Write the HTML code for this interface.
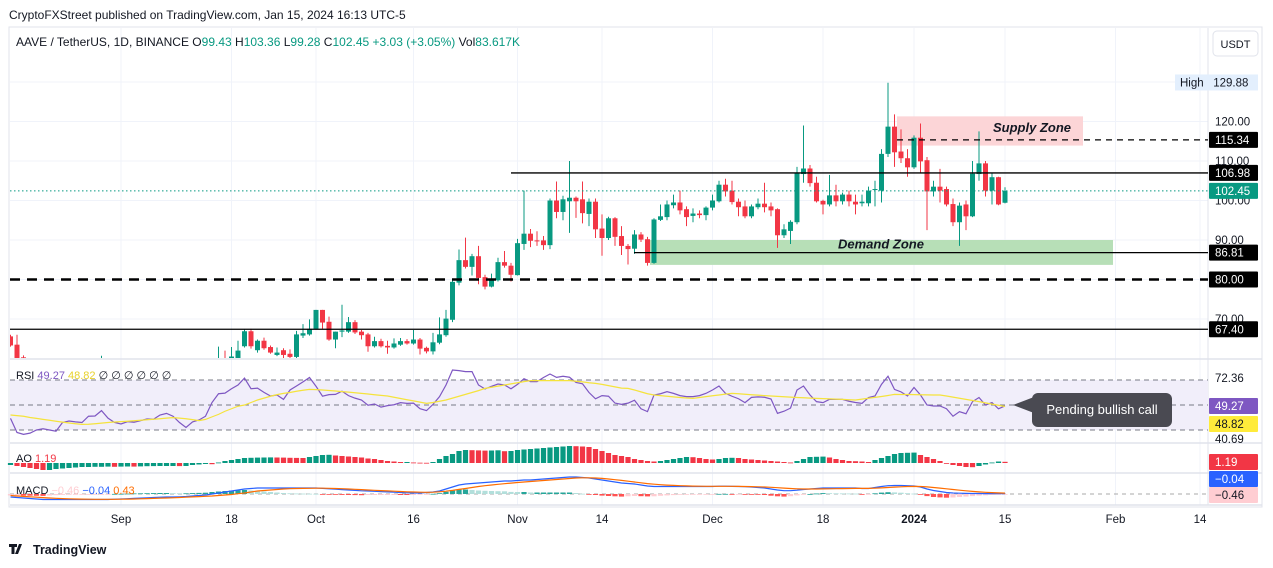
<!DOCTYPE html>
<html><head><meta charset="utf-8"><style>
html,body{margin:0;padding:0;background:#fff;width:1273px;height:568px;overflow:hidden}
svg{display:block;font-family:"Liberation Sans",sans-serif}
</style></head><body>
<svg id="chart" width="1273" height="568" viewBox="0 0 1273 568" xmlns="http://www.w3.org/2000/svg">
<rect x="0" y="0" width="1273" height="568" fill="#fff"/>
<text x="9" y="19" font-size="12" fill="#131722">CryptoFXStreet published on TradingView.com, Jan 15, 2024 16:13 UTC-5</text>
<rect x="9" y="27" width="1253" height="480" fill="none" stroke="#e0e3eb"/>
<g id="grid"></g>
<g id="zones"></g>
<g id="candles"></g>
<g id="drawings"></g>
<g id="rsi"></g>
<g id="ao"></g>
<g id="macd"></g>
<g id="axis"></g>
<text x="16" y="46" font-size="12" fill="#131722">AAVE / TetherUS, 1D, BINANCE <tspan>O</tspan><tspan fill="#089981">99.43</tspan> <tspan>H</tspan><tspan fill="#089981">103.36</tspan> <tspan>L</tspan><tspan fill="#089981">99.28</tspan> <tspan>C</tspan><tspan fill="#089981">102.45 +3.03 (+3.05%)</tspan> <tspan>Vol</tspan><tspan fill="#089981">83.617K</tspan></text>
<rect x="1213" y="31" width="45" height="25" rx="4" fill="#fff" stroke="#e0e3eb"/>
<text x="1235.5" y="48" font-size="11" fill="#131722" text-anchor="middle">USDT</text>
<text x="16" y="379" font-size="11" fill="#131722">RSI <tspan fill="#7e57c2">49.27</tspan> <tspan fill="#e8d22a">48.82</tspan> ∅ ∅ ∅ ∅ ∅ ∅</text>
<text x="16" y="462" font-size="11" fill="#131722">AO <tspan fill="#f23645">1.19</tspan></text>
<text x="16" y="494" font-size="11" fill="#131722">MACD <tspan fill="#ffcdd2">−0.46</tspan> <tspan fill="#2962ff">−0.04</tspan> <tspan fill="#ff6d00">0.43</tspan></text>
<g>
<path d="M1013,405 L1034,397 L1034,413 Z" fill="#4a4a52"/>
<rect x="1032" y="393" width="140" height="34" rx="6" fill="#4a4a52"/>
<text x="1102" y="414" font-size="13" fill="#fff" text-anchor="middle">Pending bullish call</text>
</g>
<g>
<path d="M9,544 h8 v3 h-2.5 v7 h-3 v-7 h-2.5z M19,544 h3 l-4,10 h-3z" fill="#131722"/>
<text x="33" y="554" font-size="12.5" font-weight="bold" fill="#131722">TradingView</text>
</g>
</svg>
<script>
const O=[65.6,63.5,60.3,58,57,56,55.5,56,57,56.5,
56,55,55.5,56,57,58,57,56.5,56,55.5,
55,55.5,56,56.5,57,57.5,58,58,58.5,59,
59.5,59,59.5,60,59.5,60,63.1,66.9,62.1,64.5,
62.9,60.9,62.1,61.2,60.4,65.8,66.1,67.5,72.3,69.3,
64.8,66.8,66.8,69.2,66.8,66.1,63.1,64.4,63.2,62.8,
63.5,64.4,63.8,64.8,62.7,61.8,64,65.9,69.8,79.2,
84.9,83.2,85.9,80.6,78.2,79.8,84.4,83.5,81.1,89,
91.6,89.9,89.9,88.7,100,97.1,99.8,100.7,100.3,96.6,
99.7,92.9,90.5,95.5,91,88.5,87.8,91.4,90.2,84.2,
95.1,95.8,98.8,99.5,97.8,96.1,96.7,96.3,98.2,99.8,
104,102.5,99.7,98.5,96,98.3,99.2,98.5,97.8,91.2,
92.3,94.5,106.7,108.1,104.5,99.9,99,101.3,99.8,101.5,
99.7,99.3,99.3,102.7,102.5,111.8,118.7,112.4,110.7,108.4,
115.9,110.2,102.3,103.5,102.9,99.1,94.5,99,96,106.7,
109.4,102.5,105.9,99.43];
const H=[66,66,60.8,58.8,57.8,56.6,56.8,57.6,57.4,57,
56.4,56,56.6,57.5,60.7,58.4,57.3,57,56.5,55.8,
56,56.5,57,57.5,58,58.5,58.8,59.3,59.8,60,
59.8,60,63,62,62.9,64.5,67.3,67.5,64.8,65.3,
63.3,62.8,62.6,62.3,67,68.7,69.9,72.3,72.3,70.6,
66.8,73.6,70.5,69.7,67.2,66.5,65.5,65,64.5,65.1,
65.2,64.9,67.2,65.2,63,66.5,70.4,72.3,80,87.6,
90.6,86.5,88.5,81.2,81.5,85.5,87.2,84.2,90.3,102.5,
92.8,92.2,91,100.5,104.8,101.2,110,101,104.8,100.5,
100.5,96.5,95.9,95.8,93.5,89,92.5,92,90.8,95.5,
99,100,101.5,102.5,98.5,98,97.5,98.5,101.5,105,
105.5,105,100.5,100,99,100.5,104.5,99.5,98,94,
95,108.5,119,109,106,100.2,106.5,104,102,102.5,
101.5,101.5,103.5,105,113,129.8,121.8,118,113,116.5,
119.5,111,105,108,103.5,100.5,99.5,100,110,117.5,
110,107,106,103.36];
const L=[63,58,57,56.2,55.3,54.8,55,55.6,55.8,55.5,
54.5,54.6,55,55.6,56.5,56.5,56,55.5,55,54.5,
54.6,55,55.6,56,56.5,57,57,57.5,58,58.5,
58.2,58.5,59,59.5,59,59.6,62.8,62.5,61.5,62.2,
61.2,60.6,59.8,59,60,65.2,65.8,67.3,67.5,64.5,
62.6,65.4,66.5,66.2,64.8,61.7,62.8,62.8,61.2,62.5,
63.2,63.5,63.5,61,61.3,61,63.6,65.5,69.2,78.5,
82.8,81,78.8,77.5,78,79.5,83,79.5,81,87.5,
88.2,88.5,87.5,87.7,95.5,95,91.8,95.6,94.2,93.5,
90.5,86,90,88.5,86.2,83.8,86.5,89.5,83.5,84,
94.8,95,98,96.5,93.5,94.5,95.5,95,97.5,99.5,
101,99,96,95.5,95.5,97.8,97,96,88,90.5,
89,94,104.5,103.5,99.5,96.5,98.5,98.5,99,98.5,
96.5,98.5,98.5,98.5,99.5,111,108.5,109.5,106,108,
107,92.5,101,99.5,98.5,93.5,88.5,92.5,95.8,105,
101,99,98.8,99.28];
const C=[63.3,59,58,57,56,55.5,56,57,56.5,56,
55,55.5,56,57,58,57,56.5,56,55.5,55,
55.5,56,56.5,57,57.5,58,58,58.5,59,59.5,
59,59.5,60,59.6,60.5,62,66.9,63.1,64.5,62.6,
61.5,61.5,60.9,60.4,66.1,66.4,67.5,72.3,69.1,64.8,
66.8,67.1,69.2,66.6,65.9,63.1,64.4,63.1,62.8,63.8,
64.4,63.8,64.8,62.5,61.8,64.1,66.1,70.1,79.4,84.9,
83.2,85.9,80.4,78.2,80.2,84.4,83.5,81.2,89.2,91.6,
89.8,89.8,88.7,100,97.1,100.3,100.7,99.8,96.8,99.7,
92.7,90.5,95.5,90.8,88.5,87.7,91.4,90.1,84.2,95.2,
96,99,99.5,97.5,95.8,96.7,96.3,98.2,100,104,
102.3,99.6,98.3,96,98.5,99.2,98.3,97.5,91.2,92.7,
94.6,107,108.1,104.4,99.8,99,101.3,99.8,101.5,99.8,
99,99.7,102.5,102.9,111.8,118.7,112.2,110.7,108.4,115.9,
109.9,102.3,103.5,102.5,99,94.5,98.7,96,106.8,109.4,
102.5,105.9,99,102.45];
const rsiVals=[39.3,28,26.5,27.5,30,31,30,29,36,37.2,36.5,36,41,41.2,45.5,39.5,36,34.8,36.7,36.2,37.5,38.8,38.6,42,43.3,41,36,32,36.5,38,41,52,59,59.5,63,66,71.5,63,63.5,60.1,57.2,58,54.5,62,65.2,68.5,72,65,57,58.3,58.5,61,57.5,55.5,54,49.8,50.8,48.3,49.5,50.2,51.9,51.3,51.5,47,45.5,50.5,56.7,66,78,77.5,76.7,76.7,66,62.8,65,66.8,66,63,66.5,71,68.7,68.7,72,74.8,72.1,73,72.2,68,67,60,55,57.5,57,51.5,50.5,51.5,53.8,47,44.7,58,59,60.7,59.3,57.5,56.7,56.7,57.5,59.3,62,65.2,59.3,57,55,51.9,56.1,56.5,56.2,54.8,43.3,45,47.5,62,65.2,58,52.7,51.9,54.5,54.5,54.5,53,52,51.3,56,57.2,66.5,73,62.5,60.5,57.2,64,58,50,49.2,49.2,47,41,44.7,43,52.7,56,50,51.9,47,49.27];
const rsiMa=[42,41.5,41,40,39.3,38.5,37.8,37,36.3,35.6,35,34.5,34.6,35,35.5,36,36.4,36.7,37,37.4,37.8,38.2,38.6,39,39.5,39.9,39.5,39,38.3,37.5,38.5,40.5,42.5,45,47,49,50,52,54,55.5,57,58.3,59.3,60,61,61.8,62.5,62.3,62,61.6,61.2,60.7,60.3,59.8,59.3,58.8,58.2,57.7,57.2,56.2,55.2,54.2,53.3,52.3,51.3,52,53,54,55.5,57,58.5,60,61.5,63.3,64.2,65.1,66,66.9,67.8,68.7,69.5,69.5,69.5,69.5,69.5,69.5,69.5,69,68.5,67.8,67.3,66.5,65.5,64.5,63.5,63.3,62,60.5,59,58,57.5,57,56.5,56,55.6,55.3,56,56.7,57.4,58,58.7,59.3,59,58.6,58.2,57.9,57.5,57.2,56.9,56.6,56.3,56,55.8,55.5,55.3,55.1,54.9,54.7,54.5,54.2,54,54.7,55.4,56.1,56.8,57.6,58.5,58.4,58.4,58.3,58.2,58.1,58,58,57.2,56.3,55.4,54.5,53.6,52.7,51.7,50.7,49.8,48.82];
const aoVals=[-2,-3,-4,-5,-6,-7,-7,-6,-5.5,-5,
-4.5,-4,-4,-3.8,-3.8,-3.6,-3.8,-3.6,-3.5,-3.6,
-3.4,-3.2,-3.1,-3,-3,-3,-3.1,-3,-2,-1.5,
-1,-1.2,0.5,2,3,4,5,5.2,5.4,5.5,
5.6,5.5,5.4,5.2,5.1,5,6,7,8,8.2,
7.5,7,6.5,6,5.5,4.5,4,3,2,1.5,
1,1,0.5,0.3,0.2,1,4,7,9,12,
13,12.8,12.6,12.4,12.5,12.7,11.8,12,13,13.5,
14,14.5,15,15.5,16,16.5,17,16.8,16.5,16,
14,12,10,8,7,6,4,3,2,1.5,
2,3,4,5,6,5.8,5,4,3.5,4,
5,5.2,5,4,3.5,3,2.5,2,1.5,1,
0.5,2,4,6,6.2,6.4,5.5,4,3,2,
1.8,1.5,1,3,5,7,9,10,10.2,10.4,
8,6,4,2,0,-2,-3,-4,-4.2,-3,
-1.5,0.5,1.5,1.19];
const macdVals=[-3,-3.5,-4,-4.5,-5,-5.5,-5.5,-5.5,-5.5,-5.5,-5.5,-5.5,-5.5,-5.5,-5.5,-5.5,-5.2,-5,-4.7,-4.4,-4.1,-3.8,-3.5,-3.2,-3,-3,-2.8,-2.5,-2,-1.5,-1,0,1,2,3,4,5,5.5,6,6,6,6,6,6,6,6,6,6,5.6,5.2,4.8,4.4,4,3.6,3.2,3,2.7,2.4,2.1,1.8,1.5,1.2,1,1,1.5,2,3,5,7,9,10,10.5,11,11.5,12,12.5,13,13,13.5,14,14,14.5,15,15.5,16,16.5,17,17,16.5,16,15,14,13,12,11,10.5,10,9,8,7.5,7.5,7.5,7.5,7.5,7.5,7.5,7.5,7.5,7.5,7.8,7.8,7.6,7.5,7.3,7,6.5,6,5,4,3.3,3.3,3.8,4.5,5,5.5,6,6,6,6,6,6,5.5,5.5,6.5,7.5,8.3,8.5,8.5,8.3,8,7,5,3.5,2.5,1.5,1,0.8,0.6,0.5,0.5,0.4,0.4,0.3,0.3];
const signalVals=[-1.5,-2,-2.4,-2.8,-3.2,-3.6,-4,-4.3,-4.6,-4.8,-5,-5.1,-5.2,-5.3,-5.3,-5.3,-5.3,-5.2,-5.1,-5,-4.8,-4.6,-4.4,-4.2,-4,-3.8,-3.5,-3.2,-2.9,-2.6,-2.3,-2,-1.5,-1,-0.5,0.3,1,2,3,3.5,4,4.5,5,5.3,5.5,5.6,5.7,5.8,5.8,5.7,5.5,5.3,5,4.7,4.4,4,3.7,3.4,3.1,2.8,2.5,2.2,2,1.8,1.7,1.8,2.2,2.8,3.6,4.6,5.5,6.5,7.5,8.3,9,9.7,10.3,10.9,11.5,12,12.5,13,13.5,14,14.5,15,15.5,16,16.2,16.2,16,15.6,15,14.3,13.6,12.8,12,11.2,10.4,9.8,9.3,8.9,8.6,8.3,8.1,7.9,7.8,7.7,7.7,7.7,7.7,7.7,7.6,7.5,7.4,7.2,7,6.7,6.3,5.9,5.5,5.2,5,5,5,5.1,5.2,5.3,5.4,5.5,5.6,5.6,5.6,5.8,6.1,6.5,6.9,7.2,7.5,7.6,7.5,7.1,6.5,5.9,5.2,4.5,3.8,3.2,2.6,2.1,1.7,1.4,1.1,0.9];
const timeLabels=["Sep","18","Oct","16","Nov","14","Dec","18","2024","15","Feb","14"];
const timeIdx=[17,34,47,62,78,91,108,125,139,153,170,183];
const priceTicks=[120,110,100,90,70];
const priceLevels=[115.34,106.98,86.81,80,67.4];
const lastPrice=102.45, highPrice=129.88;

const NS="http://www.w3.org/2000/svg";
const X=i=>10.5+6.5*i;
const PY=p=>200.5-(p-100)*3.95;
const RY=v=>405-(v-50)*1.25;
const AY=v=>463-v;
const MY=v=>494-v;
function mk(parent,tag,attrs,txt){const e=document.createElementNS(NS,tag);for(const k in attrs)e.setAttribute(k,attrs[k]);if(txt!==undefined)e.textContent=txt;document.getElementById(parent).appendChild(e);return e;}
const GREEN="#089981",RED="#f23645";

const gridYs=[130,120,110,100,90,80,70];
gridYs.forEach(p=>{const g=mk('grid','line',{x1:10,x2:1208,y1:PY(p),y2:PY(p),stroke:'#f0f3fa'});

});
timeIdx.forEach(i=>{const g=mk('grid','line',{x1:X(i),x2:X(i),y1:28,y2:505,stroke:'#f0f3fa'});

});
[[359,'main-rsi-separator'],[443,'rsi-ao-separator'],[473,'ao-macd-separator'],[505,'time-axis-separator']].forEach(a=>{const s=mk('grid','line',{x1:10,x2:1262,y1:a[0],y2:a[0],stroke:'#e0e3eb',"stroke-width":1.5});

});
const vsep=mk('grid','line',{x1:1208,x2:1208,y1:28,y2:505,stroke:'#e0e3eb'});



const sz=mk('zones','rect',{x:897,y:PY(121.3),width:186,height:PY(113.9)-PY(121.3),fill:'#fcd5d7'});


const dz=mk('zones','rect',{x:650,y:PY(90),width:463,height:PY(83.7)-PY(90),fill:'#b7dfb7'});



const clip=mk('candles','clipPath',{id:'mainclip'});
const cr=document.createElementNS(NS,'rect');cr.setAttribute('x',10);cr.setAttribute('y',28);cr.setAttribute('width',1198);cr.setAttribute('height',330);clip.appendChild(cr);
const cg=mk('candles','g',{'clip-path':'url(#mainclip)',id:'cgroup'});


for(let i=0;i<C.length;i++){
  const col=C[i]>=O[i]?GREEN:RED;const x=X(i);
  const w=mk('cgroup','line',{x1:x,x2:x,y1:PY(H[i]),y2:PY(L[i]),stroke:col,"stroke-width":1});
  
  
  const t=Math.min(PY(O[i]),PY(C[i])),h=Math.max(1,Math.abs(PY(O[i])-PY(C[i])));
  const b=mk('cgroup','rect',{x:x-2.5,y:t,width:5,height:h,fill:col});
  
  
}

function hline(p,x1,x2,attrs,name){const l=mk('drawings','line',Object.assign({x1:x1,x2:x2,y1:PY(p),y2:PY(p),stroke:'#000'},attrs));

return l;}
hline(lastPrice,10,1208,{stroke:GREEN,"stroke-dasharray":"1.5 2.5"},'last-price-line');
hline(106.98,511,1208,{"stroke-width":1.3},'resistance-line-106');
hline(67.4,10,1208,{"stroke-width":1.3},'support-line-67');
hline(80,10,1208,{"stroke-width":2.5,"stroke-dasharray":"10 7"},'support-line-80-dashed');
hline(115.34,897,1208,{"stroke-width":1.2,"stroke-dasharray":"6 5"},'supply-midline-115');
hline(86.81,634,1208,{"stroke-width":1.3},'demand-line-86');
const st=mk('drawings','text',{x:993,y:PY(117.3),"font-size":13,"font-weight":"bold","font-style":"italic",fill:'#131722'},'Supply Zone');


const dt=mk('drawings','text',{x:838,y:PY(87.9),"font-size":13,"font-weight":"bold","font-style":"italic",fill:'#131722'},'Demand Zone');



const band=mk('rsi','rect',{x:10,y:RY(70),width:1198,height:RY(30)-RY(70),fill:'#f1eefa'});


[70,50,30].forEach(v=>{const l=mk('rsi','line',{x1:10,x2:1208,y1:RY(v),y2:RY(v),stroke:'#787b86',"stroke-dasharray":"5 4"});

});
const rp=mk('rsi','polyline',{points:rsiVals.map((v,i)=>X(i)+','+RY(v)).join(' '),fill:'none',stroke:'#7e57c2',"stroke-width":1.2});


const rm=mk('rsi','polyline',{points:rsiMa.map((v,i)=>X(i)+','+RY(v)).join(' '),fill:'none',stroke:'#f5e33c',"stroke-width":1.2});



aoVals.forEach((v,i)=>{const up=i===0||v>=aoVals[i-1];const y1=Math.min(AY(v),AY(0)),h=Math.max(0.8,Math.abs(v));
const b=mk('ao','rect',{x:X(i)-2.6,y:y1,width:5.2,height:h,fill:up?GREEN:RED});

});

const mb=mk('macd','line',{x1:10,x2:1208,y1:MY(0),y2:MY(0),stroke:'#aaa',"stroke-dasharray":"4 4"});


macdVals.forEach((v,i)=>{const hv=v-signalVals[i];const prev=i?macdVals[i-1]-signalVals[i-1]:hv;
let col=hv>=0?(hv>=prev?'#26a69a':'#b2dfdb'):(hv<prev?'#ff5252':'#ffcdd2');
const b=mk('macd','rect',{x:X(i)-2.6,y:Math.min(MY(hv),MY(0)),width:5.2,height:Math.max(0.8,Math.abs(hv)),fill:col});

});
const ml=mk('macd','polyline',{points:macdVals.map((v,i)=>X(i)+','+MY(v)).join(' '),fill:'none',stroke:'#2962ff',"stroke-width":1.2});


const sl=mk('macd','polyline',{points:signalVals.map((v,i)=>X(i)+','+MY(v)).join(' '),fill:'none',stroke:'#ff6d00',"stroke-width":1.2});



timeLabels.forEach((t,k)=>{const e=mk('axis','text',{x:X(timeIdx[k]),y:523,"font-size":11.5,fill:'#131722',"text-anchor":"middle","font-weight":t==='2024'?'bold':'normal'},t);

});
priceTicks.forEach(p=>{const e=mk('axis','text',{x:1215,y:PY(p)+4,"font-size":11.5,fill:'#131722'},p.toFixed(2));

});
function box(y,bg,fg,txt,name){const r=mk('axis','rect',{x:1209,y:y-8,width:49,height:16,fill:bg,rx:1});


const t=mk('axis','text',{x:1215,y:y+4,"font-size":11.5,fill:fg},txt);

}
priceLevels.forEach(p=>box(PY(p),'#000','#fff',p.toFixed(2),'level-label'));
box(PY(lastPrice),GREEN,'#fff',lastPrice.toFixed(2),'last-price-label');
const hb=mk('axis','rect',{x:1175,y:PY(highPrice)-8,width:83,height:16,fill:'#e3effd'});


const ht=mk('axis','text',{x:1180,y:PY(highPrice)+4,"font-size":11.5,fill:'#131722'},'High   '+highPrice.toFixed(2));


ht.style.whiteSpace='pre';
const rt=mk('axis','text',{x:1215,y:382,"font-size":11.5,fill:'#131722'},'72.36');


const rb=mk('axis','text',{x:1215,y:443,"font-size":11.5,fill:'#131722'},'40.69');


box(406,'#7e57c2','#fff','49.27','rsi-value-label');
box(424,'#ffeb3b','#131722','48.82','rsi-ma-value-label');
box(462,'#f23645','#fff','1.19','ao-value-label');
box(479,'#2962ff','#fff','−0.04','macd-value-label');
box(495,'#ffcdd2','#131722','−0.46','macd-hist-value-label');
</script>
</body></html>
